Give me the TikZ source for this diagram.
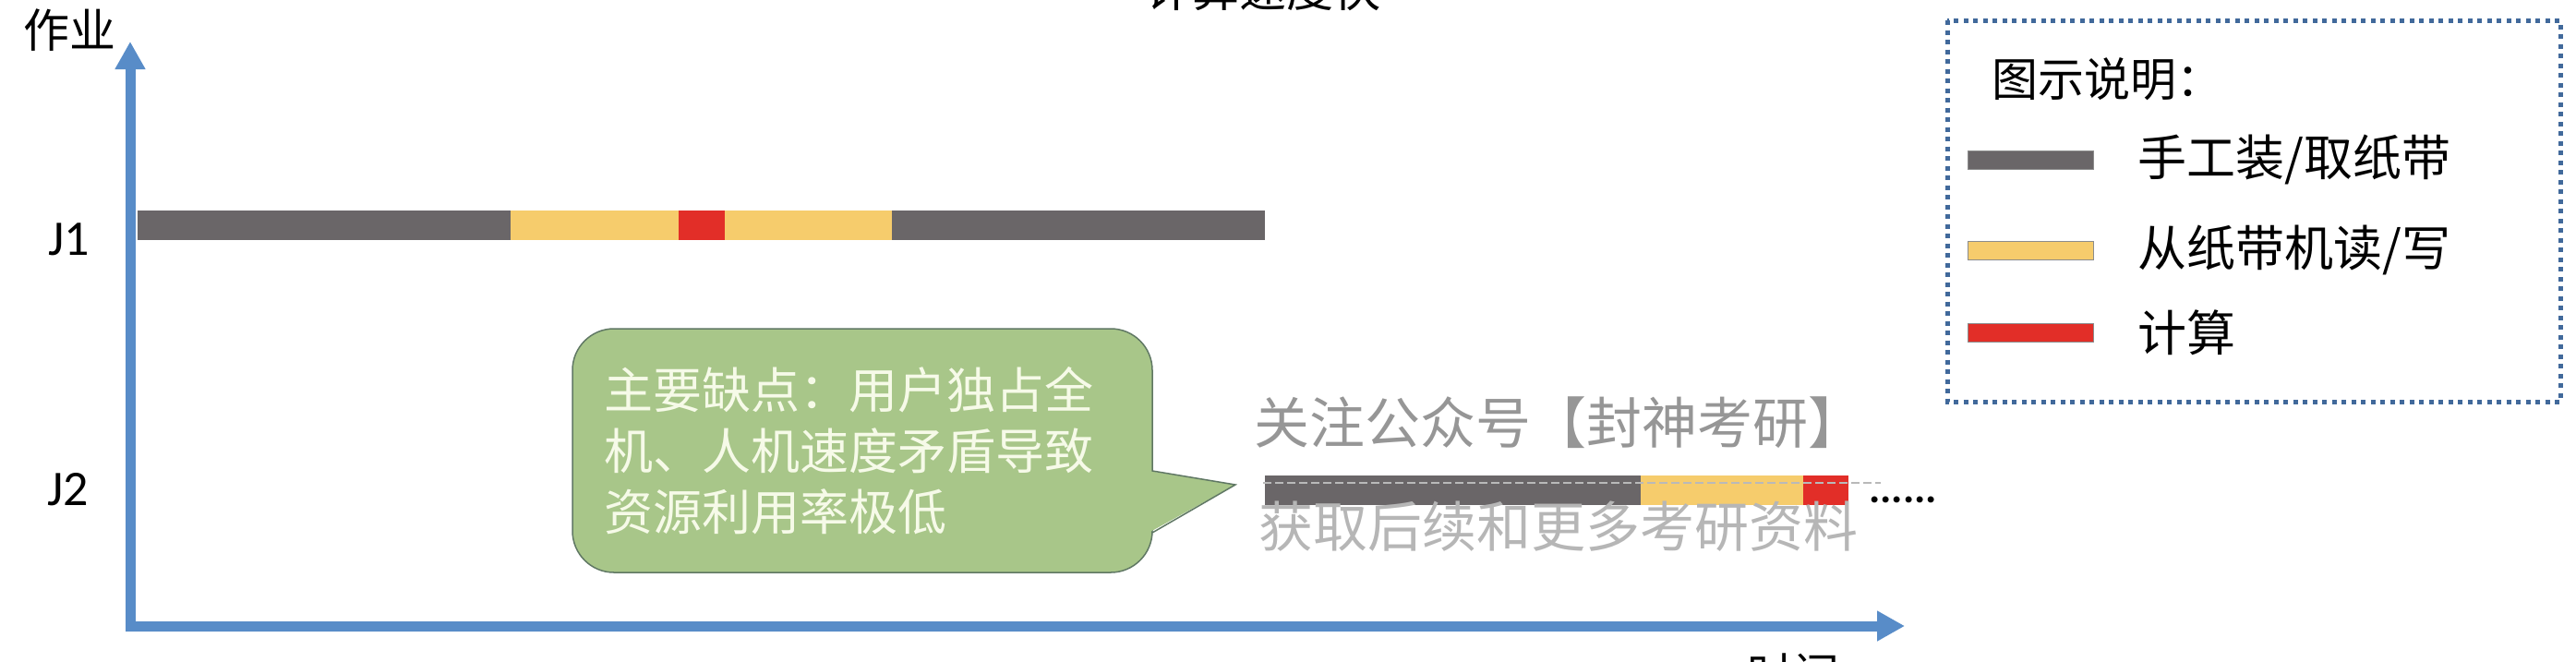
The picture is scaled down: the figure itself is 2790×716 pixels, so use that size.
\documentclass[tikz,border=0pt]{standalone}
\usepackage{fontspec}
\usetikzlibrary{arrows.meta}
\newfontfamily\cjk{Noto Sans CJK SC}
\newfontfamily\lat{Carlito}
\definecolor{axisblue}{RGB}{88,140,200}
\definecolor{barGray}{RGB}{106,102,104}
\definecolor{barYellow}{RGB}{246,204,108}
\definecolor{barRed}{RGB}{226,46,40}
\definecolor{bubbleGreen}{RGB}{168,198,137}
\definecolor{bubbleLine}{RGB}{96,120,100}
\definecolor{bubbleText}{RGB}{246,250,232}
\definecolor{legendLine}{RGB}{65,105,155}
\definecolor{wmGray}{RGB}{150,150,150}
\begin{document}
\begin{tikzpicture}[x=1pt, y=-1pt, >={Triangle[length=30pt, width=31pt]}, line join=miter, font=\cjk\fontsize{50}{60}\selectfont]
	\tikzset{every node/.style={inner sep=0pt},
		axis/.style={draw=axisblue, line width=11pt},
		bubble/.style={rectangle, rounded corners=45pt, fill=bubbleGreen, draw=bubbleLine, line width=1.5pt, minimum width=628pt, minimum height=264pt, text width=560pt, align=left, text=bubbleText, font=\cjk\fontsize{53}{66}\selectfont},
		legendbox/.style={draw=legendLine, line width=5pt, dash pattern=on 5pt off 5.5pt},
		legtext/.style={anchor=west, font=\cjk\fontsize{53}{60}\selectfont},
		jlabel/.style={font=\lat\fontsize{54}{60}\selectfont}}
	\useasboundingbox (0,0) rectangle (2790,716);
	\clip (0,0) rectangle (2790,716);
	\path (141,678) coordinate (O) (141,45) coordinate (Y) (2063,678) coordinate (X)
		(1248,510) coordinate (P1) (1338,525) coordinate (T) (1248,577) coordinate (P2);
	\draw [axis, <->] (Y)--(O)--(X);
	\node (jobs) at (75,33) {作业};
	\node [anchor=base] (time) at (1942,749) {时间};
	\node [anchor=base, font=\cjk\fontsize{51}{60}\selectfont] (title) at (1368,7) {计算速度快};
	\node [jlabel] (J1) at (75,259) {J1};
	\node [jlabel] (J2) at (74,530) {J2};
	\foreach \a/\b/\c in {149/553/barGray, 553/735/barYellow, 735/785/barRed, 785/966/barYellow, 966/1370/barGray}{
		\fill [\c] (\a,228) rectangle (\b,260);
	}
	\foreach \a/\b/\c in {1370/1777/barGray, 1777/1953/barYellow, 1953/2002/barRed}{
		\fill [\c] (\a,515) rectangle (\b,547);
	}
	\draw [gray!55, line width=1.5pt, dash pattern=on 9pt off 4pt] (1368,523)--(2037,523);
	\node [anchor=base west, font=\lat\bfseries\fontsize{46}{50}\selectfont] (more) at (2024,544) {......};
	\node [bubble] (note) at (934,488) {主要缺点：用户独占全\\机、人机速度矛盾导致\\资源利用率极低};
	\fill [bubbleGreen] ([xshift=-4pt]P1)--(T)--([xshift=-4pt]P2)--cycle;
	\draw [bubbleLine, line width=1.5pt] (P1)--(T)--(P2);
	\node [text=wmGray, font=\cjk\fontsize{60}{70}\selectfont] (wm1) at (1688,458) {关注公众号【封神考研】};
	\node [text=wmGray!70, font=\cjk\fontsize{59}{70}\selectfont] (wm2) at (1688,570) {获取后续和更多考研资料};
	\draw [legendbox] (2109,22) rectangle (2773,435);
	\node [anchor=west] (legtitle) at (2157,86) {图示说明：};
	\foreach \c/\y/\t [count=\i] in {barGray/173/{手工装/取纸带}, barYellow/271/{从纸带机读/写}, barRed/360/{计算}}{
		\filldraw [fill=\c, draw=black!45, line width=1pt] (2131,\y-10) rectangle (2267,\y+10);
		\node [legtext] (leg\i) at (2315,\y) {\t};
	}
\end{tikzpicture}
\end{document}
